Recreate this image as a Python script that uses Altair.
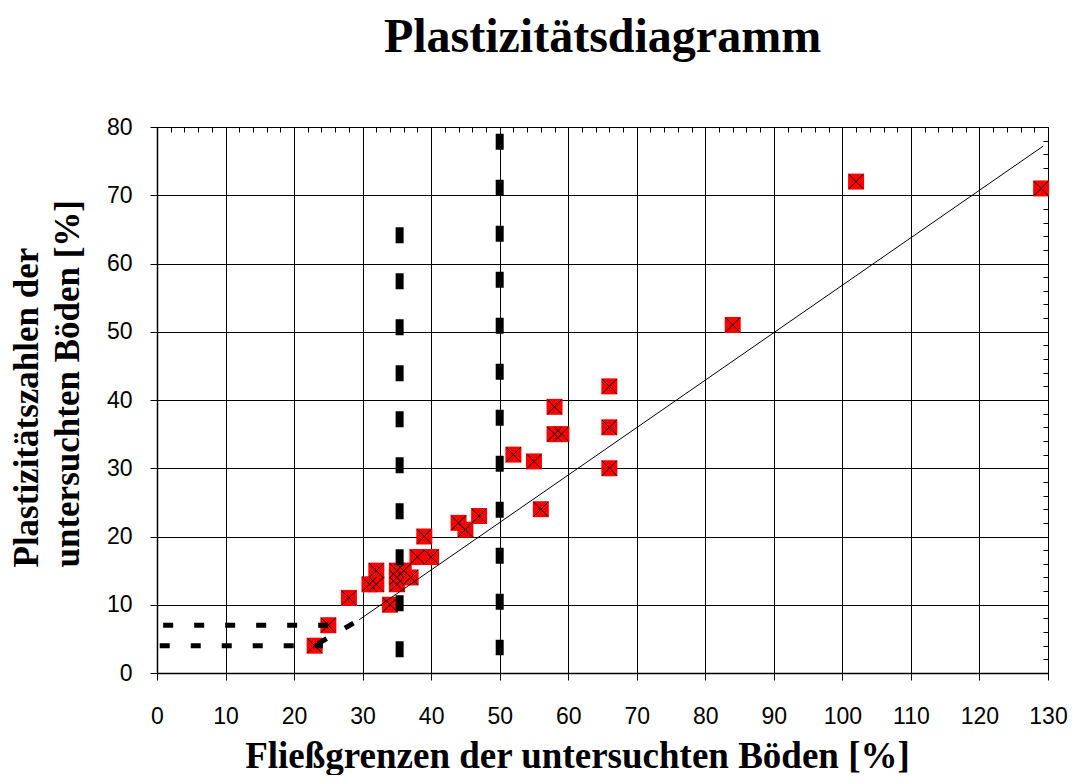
import altair as alt
import pandas as pd

# ---- data ----
liquid_limit = [23, 25, 28, 31, 32, 32, 34, 35, 35, 35, 36, 37, 38, 39, 40, 44, 45, 47,
                52, 55, 56, 58, 58, 59, 66, 66, 66, 84, 102, 129]
plasticity_index = [4, 7, 11, 13, 13, 15, 10, 13, 14, 15, 15, 14, 17, 20, 17, 22, 21, 23,
                    32, 31, 24, 39, 35, 35, 42, 36, 30, 51, 72, 71]

# A-line (solid) and its dashed extension
aline_x = [29.5, 129.3]
aline_y = [7.8, 77.2]
aext_x = [23.5, 29.5]
aext_y = [4.3, 7.8]

# horizontal dashed limits (Ip = 7 and Ip = 4)
h_y = [7, 4]
h_x_start = [0.9, 0.4]
h_x_end = [25.0, 24.2]

# vertical dashed limits (wL = 35 and wL = 50)
v_x = [35.4, 50]
v_top = [65.3, 79.0]
v_bottom = [1.8, 2.6]

major_x = list(range(0, 131, 10))
minor_x = list(range(0, 131, 2))
major_y = list(range(0, 81, 10))
minor_y = list(range(0, 81, 2))

pts = pd.DataFrame({"wL": liquid_limit, "Ip": plasticity_index})
aline = pd.DataFrame({"x": [aline_x[0]], "y": [aline_y[0]], "x2": [aline_x[1]], "y2": [aline_y[1]]})
aext = pd.DataFrame({"x": [aext_x[0]], "y": [aext_y[0]], "x2": [aext_x[1]], "y2": [aext_y[1]]})
hlines = pd.DataFrame({"x": h_x_start, "x2": h_x_end, "y": h_y})
vlines = pd.DataFrame({"x": v_x, "y": v_top, "y2": v_bottom})

xs = alt.Scale(domain=[0, 130], nice=False, zero=False)
ys = alt.Scale(domain=[0, 80], nice=False, zero=False)

x_axis = alt.Axis(
    values=major_x, grid=True, gridColor="black", gridWidth=1, gridOpacity=1,
    tickSize=7, tickColor="black", tickWidth=1,
    domainColor="black", domainWidth=1.5,
    labelFont="Liberation Sans", labelFontSize=23, labelColor="black",
    labelPadding=25, labelFlush=False, labelOverlap=False,
    title="Fließgrenzen der untersuchten Böden [%]",
    titleFont="Liberation Serif", titleFontSize=37, titleFontWeight="bold",
    titleColor="black", titleX=420, titleY=94, titleAlign="center",
    titleBaseline="alphabetic", titleAngle=0,
)
y_axis = alt.Axis(
    values=major_y, grid=True, gridColor="black", gridWidth=1, gridOpacity=1,
    tickSize=7, tickColor="black", tickWidth=1,
    domainColor="black", domainWidth=1.5,
    labelFont="Liberation Sans", labelFontSize=23, labelColor="black",
    labelPadding=18, labelOverlap=False, labelFlush=False,
    title=["Plastizitätszahlen der", "untersuchten Böden [%]"],
    titleFont="Liberation Serif", titleFontSize=35, titleFontWeight="bold",
    titleColor="black", titleAngle=270, titleAlign="left",
    titleBaseline="alphabetic", titleX=-120, titleY=440, titleLineHeight=41,
)
x_minor = alt.Axis(values=minor_x, grid=False, labels=False, domain=False,
                   ticks=True, tickSize=5, tickColor="black", tickWidth=1,
                   offset=-5, title=None)
y_minor = alt.Axis(values=minor_y, grid=False, labels=False, domain=False,
                   ticks=True, tickSize=5, tickColor="black", tickWidth=1,
                   offset=-5, title=None)

vdash = alt.Chart(vlines).mark_rule(
    color="black", strokeWidth=8, strokeDash=[16, 30], strokeCap="butt"
).encode(
    x=alt.X("x:Q", scale=xs, axis=None),
    y=alt.Y("y:Q", scale=ys, axis=None),
    y2="y2:Q",
)
hdash = alt.Chart(hlines).mark_rule(
    color="black", strokeWidth=5, strokeDash=[10, 21], strokeCap="butt"
).encode(
    x=alt.X("x:Q", scale=xs, axis=None),
    x2="x2:Q",
    y=alt.Y("y:Q", scale=ys, axis=None),
)
adash = alt.Chart(aext).mark_rule(
    color="black", strokeWidth=5, strokeDash=[10, 21], strokeCap="butt"
).encode(
    x=alt.X("x:Q", scale=xs, axis=None),
    x2="x2:Q",
    y=alt.Y("y:Q", scale=ys, axis=None),
    y2="y2:Q",
)
asolid = alt.Chart(aline).mark_rule(color="black", strokeWidth=1).encode(
    x=alt.X("x:Q", scale=xs, axis=None),
    x2="x2:Q",
    y=alt.Y("y:Q", scale=ys, axis=None),
    y2="y2:Q",
)
squares = alt.Chart(pts).mark_square(
    size=256, color="#FF0000", opacity=1, filled=True, strokeWidth=0
).encode(
    x=alt.X("wL:Q", scale=xs, axis=x_axis),
    y=alt.Y("Ip:Q", scale=ys, axis=y_axis),
)
crosses = alt.Chart(pts).mark_point(
    shape="M-0.9,-0.9L0.9,0.9M-0.9,0.9L0.9,-0.9", size=256, filled=False,
    stroke="black", strokeWidth=1, opacity=1
).encode(
    x=alt.X("wL:Q", scale=xs, axis=None),
    y=alt.Y("Ip:Q", scale=ys, axis=None),
)
minor = alt.Chart(pts).mark_point(opacity=0).encode(
    x=alt.X("wL:Q", scale=xs, axis=x_minor),
    y=alt.Y("Ip:Q", scale=ys, axis=y_minor),
)

chart = alt.layer(
    squares, minor, vdash, hdash, adash, asolid, crosses
).resolve_axis(
    x="independent", y="independent"
).properties(
    width=891, height=546,
    title=alt.TitleParams(
        "Plastizitätsdiagramm", font="Liberation Serif", fontSize=48,
        fontWeight="bold", anchor="middle", baseline="alphabetic",
        offset=16, color="black",
    ),
    autosize=alt.AutoSizeParams(type="none"),
    padding={"left": 149, "top": 119, "right": 21, "bottom": 102},
).configure_view(
    stroke="black", strokeWidth=1.5
).configure(background="white")

chart.save("out.html", embed_options={"renderer": "svg", "actions": False})
